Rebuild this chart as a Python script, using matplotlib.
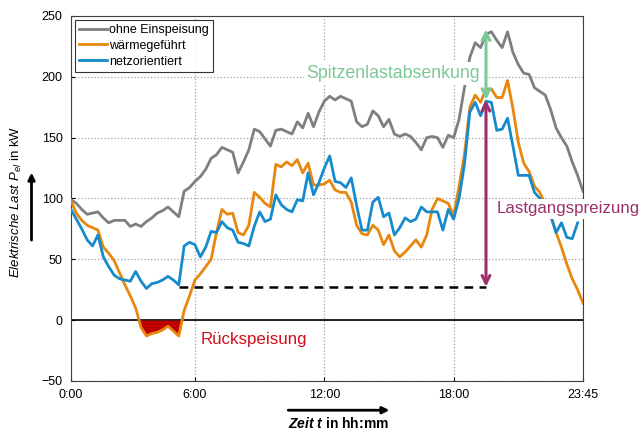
import matplotlib
matplotlib.use('Agg')
import matplotlib.pyplot as plt
import numpy as np

plt.rcParams['font.family'] = 'Liberation Sans'
plt.rcParams['mathtext.fontset'] = 'custom'
plt.rcParams['mathtext.rm'] = 'Liberation Sans'
plt.rcParams['mathtext.it'] = 'Liberation Sans:italic'
plt.rcParams['mathtext.bf'] = 'Liberation Sans:italic:bold'

# 15-min steps, 1..96
ohne = [99, 96, 91, 87, 88, 89, 84, 80, 82, 82, 82, 77, 79, 77, 81, 84, 88, 90, 93, 89,
        85, 106, 109, 114, 118, 124, 133, 136, 142, 140, 138, 121, 130, 140, 157, 155, 149, 143, 156, 157,
        155, 153, 163, 158, 170, 159, 171, 180, 184, 181, 184, 182, 180, 163, 159, 161, 172, 168, 159, 165,
        153, 151, 153, 151, 146, 140, 150, 151, 150, 142, 152, 150, 165, 191, 216, 228, 224, 235, 237, 230,
        224, 237, 220, 210, 203, 202, 191, 188, 185, 173, 158, 150, 143, 130, 119, 106]
waerme = [98, 88, 82, 78, 76, 74, 60, 55, 49, 39, 29, 20, 10, -6, -13, -11, -10, -8, -5, -9,
          -13, 8, 20, 33, 38, 44, 50, 72, 91, 87, 88, 72, 70, 78, 105, 101, 96, 93, 128, 126,
          130, 127, 132, 121, 129, 111, 111, 112, 115, 107, 105, 105, 97, 78, 71, 70, 78, 74, 62, 70,
          57, 52, 56, 61, 66, 60, 70, 91, 100, 98, 96, 86, 110, 136, 175, 185, 179, 190, 190, 183,
          183, 197, 174, 146, 129, 122, 110, 105, 95, 86, 72, 60, 46, 34, 25, 14]
netz = [91, 83, 75, 66, 61, 70, 52, 44, 37, 34, 33, 32, 40, 32, 26, 30, 31, 33, 36, 33,
        29, 61, 64, 62, 52, 60, 73, 72, 81, 76, 74, 64, 63, 61, 77, 89, 81, 83, 103, 95,
        91, 89, 99, 98, 121, 103, 113, 125, 135, 114, 113, 109, 117, 94, 74, 74, 97, 101, 85, 88,
        70, 76, 84, 81, 83, 93, 89, 89, 89, 74, 91, 83, 100, 128, 171, 179, 168, 180, 179, 156,
        157, 166, 143, 119, 119, 119, 105, 100, 95, 86, 72, 80, 68, 67, 80]

tick_pos = [1, 24, 48, 72, 96]
tick_lab = ['0:00', '6:00', '12:00', '18:00', '23:45']
y_ticks = [-50, 0, 50, 100, 150, 200, 250]

sockel = 27.5      # Grundlast netzorientiert
spitze_ohne = 239
spitze_netz = 181
t_marke = 78

x_ohne = np.arange(1, len(ohne) + 1)
x_waerme = np.arange(1, len(waerme) + 1)
x_netz = np.arange(1, len(netz) + 1)

fig = plt.figure(figsize=(6.43, 4.30), dpi=100)
ax = fig.add_axes([0.1104, 0.114, 0.7963, 0.8488])

ax.axhline(0, color='black', lw=1.2, zorder=2)
w = np.array(waerme, dtype=float)
ax.fill_between(x_waerme, w, 0, where=w < 0, interpolate=True, color='#c00000', lw=0, zorder=2)

ax.plot(x_ohne, ohne, color='#7f7f7f', lw=2, label='ohne Einspeisung', zorder=3)
ax.plot(x_waerme, waerme, color='#e8870e', lw=2, label='wärmegeführt', zorder=3)
ax.plot(x_netz, netz, color='#168bcc', lw=2, label='netzorientiert', zorder=3)

ax.plot([21, t_marke], [sockel, sockel], color='black', lw=1.8, ls=(0, (3.5, 2.5)), zorder=4)

ax.annotate('', xy=(t_marke, spitze_ohne), xytext=(t_marke, spitze_netz),
            arrowprops=dict(arrowstyle='<->', color='#7cc896', lw=2.2, mutation_scale=14,
                            shrinkA=0, shrinkB=0), zorder=6)
ax.annotate('', xy=(t_marke, spitze_netz), xytext=(t_marke, sockel),
            arrowprops=dict(arrowstyle='<->', color='#9b3168', lw=2.2, mutation_scale=14,
                            shrinkA=0, shrinkB=0), zorder=6)

bb = dict(facecolor='white', edgecolor='none', pad=2)
ax.text(60.8, 203, 'Spitzenlastabsenkung', color='#7cc896', fontsize=12.8,
        ha='center', va='center', bbox=bb, zorder=5)
ax.text(93.3, 91.5, 'Lastgangspreizung', color='#9b3168', fontsize=12.2,
        ha='center', va='center', bbox=bb, zorder=5, clip_on=False)
ax.text(35, -16, 'Rückspeisung', color='#d0101a', fontsize=12.2,
        ha='center', va='center', zorder=5)

ax.set_xlim(1, 96)
ax.set_ylim(-50, 250)
ax.set_xticks(tick_pos)
ax.set_xticklabels(tick_lab)
ax.set_yticks(y_ticks)
ax.tick_params(labelsize=9, length=3, direction='in', pad=6)
ax.grid(True, ls=':', color='#a0a0a0', lw=0.9)
for s in ax.spines.values():
    s.set_color('#404040')

leg = ax.legend(loc='upper left', fontsize=9, handlelength=2.2, handletextpad=0.2,
                borderpad=0.35, labelspacing=0.3, fancybox=False, edgecolor='black',
                borderaxespad=0.3)
leg.get_frame().set_linewidth(0.8)

fig.text(0.026, 0.53, r'$Elektrische\ Last\ P_{el}$ in kW', rotation=90,
         ha='center', va='center', fontsize=9.5)
fig.text(0.527, 0.014, r'$\mathbf{Zeit\ t}$ in hh:mm', ha='center', va='center',
         fontsize=10, fontweight='bold')
ax.annotate('', xy=(0.049, 0.605), xytext=(0.049, 0.435), xycoords='figure fraction',
            arrowprops=dict(arrowstyle='-|>', color='black', lw=2, mutation_scale=10))
ax.annotate('', xy=(0.61, 0.046), xytext=(0.444, 0.046), xycoords='figure fraction',
            arrowprops=dict(arrowstyle='-|>', color='black', lw=2, mutation_scale=10))

fig.savefig('out.png', dpi=100)
plt.close(fig)
